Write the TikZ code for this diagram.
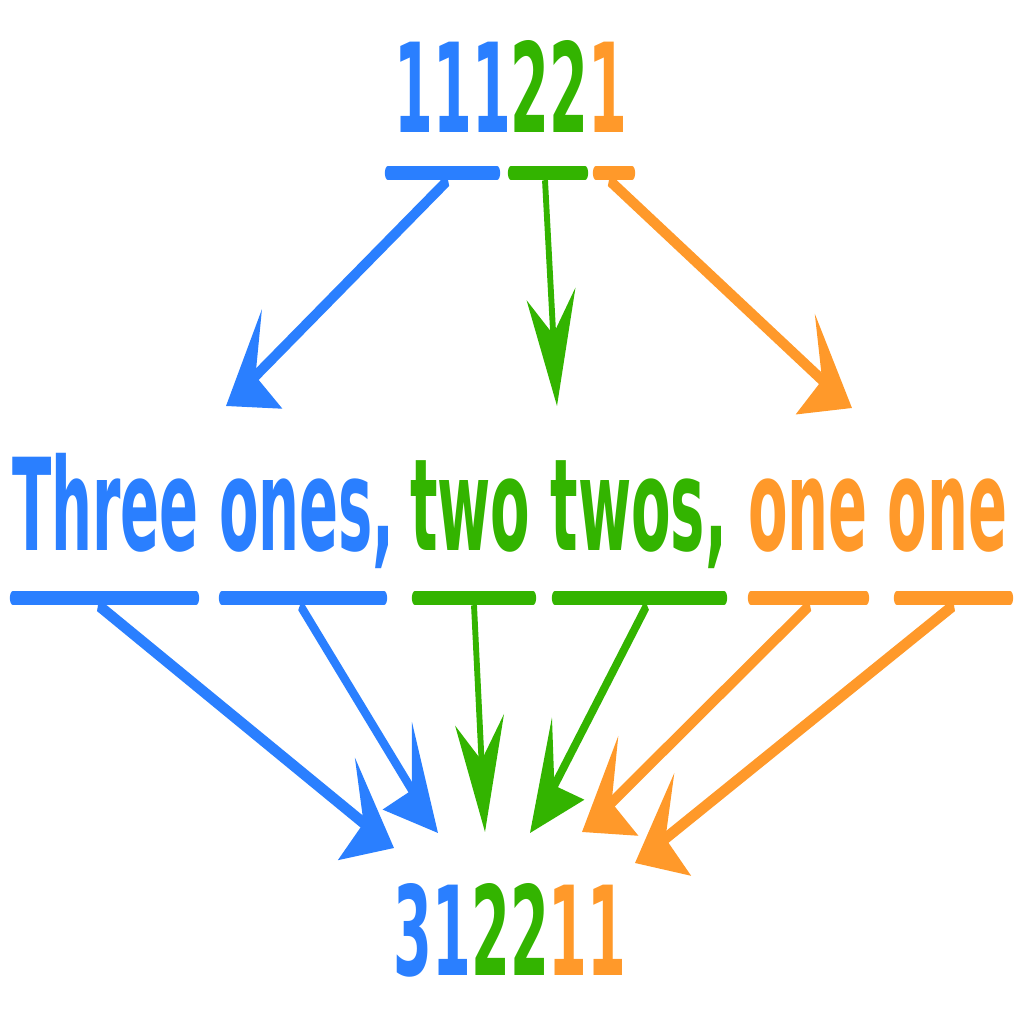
\documentclass[tikz,border=0pt]{standalone}
\usepackage{fontspec}
\setmainfont{DejaVu Sans}
\usetikzlibrary{arrows.meta}

\tikzset{
  link/.style={line width=6.5pt, -{Stealth[length=56pt,width=54pt,inset=20pt]}},
  bar/.style={line width=7pt, line cap=round},
  digits/.style={inner sep=0pt, font=\fontsize{62pt}{68pt}\selectfont\bfseries},
  words/.style={inner sep=0pt, anchor=base west, font=\fontsize{64pt}{70pt}\selectfont\bfseries},
}

\begin{document}
\begin{tikzpicture}[x=0.5pt, y=-0.5pt]
  \definecolor{lsblue}{HTML}{2A7FFF}
  \definecolor{lsgreen}{HTML}{33B400}
  \definecolor{lsorange}{HTML}{FF992A}
  \useasboundingbox (0,0) rectangle (1024,1024);
  % everything is squeezed sideways, as in the picture
  \begin{scope}[transform canvas={xscale=0.45}, x=1.1111pt]
    \node[digits, anchor=base] (seed) at (511,132)
      {\color{lsblue}111\color{lsgreen}22\color{lsorange}1};
    \draw[bar, lsblue] (388,173) -- (497,173);
    \draw[bar, lsgreen] (511,173) -- (585,173);
    \draw[bar, lsorange] (596,173) -- (632,173);
    \foreach \n/\c/\sx/\tx/\ty in {a/lsblue/448/226/406, b/lsgreen/545/557/406, c/lsorange/609/852/408} {
      \coordinate (from \n) at (\sx,180);
      \coordinate (to \n) at (\tx,\ty);
      \draw[link, \c] (from \n) -- (to \n);
    }

    % the spoken line
    \node[words, text=lsblue] (three) at (12,550) {Three ones,};
    \node[words, text=lsgreen] (two) at (410,550) {two twos,};
    \node[words, text=lsorange] (one) at (748,550) {one one};
    \foreach \c/\l/\r in {lsblue/13/196, lsblue/222/384, lsgreen/415/533,
                          lsgreen/555/724, lsorange/751/866, lsorange/897/1010}
      \draw[bar, \c] (\l,598) -- (\r,598);
    \foreach \n/\c/\sx/\tx/\ty in {d/lsblue/98/394/848, e/lsblue/300/438/833,
                                   f/lsgreen/474/485/832, g/lsgreen/647/530/833,
                                   h/lsorange/810/582/832, i/lsorange/954/635/863} {
      \coordinate (from \n) at (\sx,605);
      \coordinate (to \n) at (\tx,\ty);
      \draw[link, \c] (from \n) -- (to \n);
    }

    \node[digits, anchor=base] (next) at (510,975)
      {\color{lsblue}31\color{lsgreen}22\color{lsorange}11};
  \end{scope}
\end{tikzpicture}
\end{document}
